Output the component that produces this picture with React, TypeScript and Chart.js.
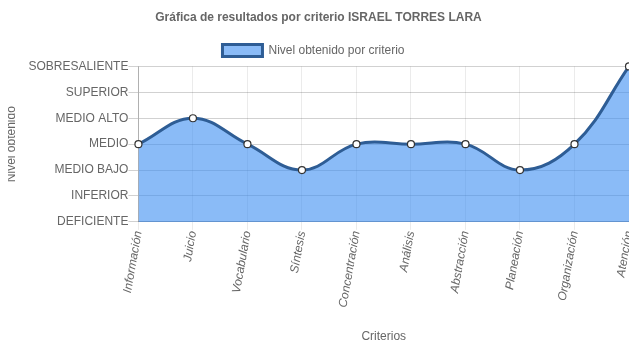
import React, { useEffect, useRef } from "react";
import { Chart, registerables } from "chart.js";

Chart.register(...registerables);

const categories = [
  "Información",
  "Juicio",
  "Vocabulario",
  "Síntesis",
  "Concentración",
  "Análisis",
  "Abstracción",
  "Planeación",
  "Organización",
  "Atención",
];

const levelLabels = [
  "DEFICIENTE",
  "INFERIOR",
  "MEDIO BAJO",
  "MEDIO",
  "MEDIO ALTO",
  "SUPERIOR",
  "SOBRESALIENTE",
];

const values = [3, 4, 3, 2, 3, 3, 3, 2, 3, 6];

const titleText = "Gráfica de resultados por criterio ISRAEL TORRES LARA";
const seriesName = "Nivel obtenido por criterio";

const legendShift = {
  id: "legendShift",
  afterLayout(chart: any) {
    if (chart.legend) {
      chart.legend.right = chart.legend.left + chart.legend.width - 10;
    }
  },
};

export default function App() {
  const ref = useRef<HTMLCanvasElement | null>(null);
  useEffect(() => {
    if (!ref.current) return;
    document.documentElement.style.overflow = "hidden";
    document.body.style.overflow = "hidden";
    Chart.defaults.font.family = "'Liberation Sans', Arial, sans-serif";
    Chart.defaults.font.size = 12;
    Chart.defaults.color = "#666";
    const chart = new Chart(ref.current, {
      type: "line",
      data: {
        labels: categories,
        datasets: [
          {
            label: seriesName,
            data: values,
            fill: "origin",
            backgroundColor: "rgba(60,142,242,0.6)",
            borderColor: "#2e5d95",
            borderWidth: 3,
            tension: 0.4,
            pointRadius: 3.5,
            pointBorderWidth: 1.2,
            pointBackgroundColor: "#ffffff",
            pointBorderColor: "#333",
            clip: false as any,
          },
        ],
      },
      options: {
        animation: false,
        responsive: false,
        maintainAspectRatio: false,
        layout: { padding: { right: 0, left: 0, top: 0, bottom: 0 } },
        plugins: {
          title: {
            display: true,
            text: titleText,
            color: "#666",
            font: { size: 12, weight: "bold" },
            padding: { top: 10, bottom: 10 },
          },
          legend: {
            display: true,
            labels: {
              boxWidth: 40,
              boxHeight: 12,
              color: "#666",
              font: { size: 12 },
              padding: 10,
            },
          },
          tooltip: { enabled: false },
        },
        scales: {
          x: {
            offset: false,
            grid: { color: "rgba(0,0,0,0.08)", tickLength: 8 },
            border: { color: "rgba(0,0,0,0.25)" },
            afterFit: (s: any) => {
              s.paddingRight = 8;
            },
            ticks: {
              maxRotation: 90,
              minRotation: 80,
              padding: 0,
              autoSkip: false,
              font: { style: "italic", size: 12 },
            },
            title: {
              display: true,
              text: "Criterios",
              color: "#666",
              font: { size: 12 },
              padding: { top: 21, bottom: 4 },
            },
          },
          y: {
            min: 0,
            max: 6,
            grid: { color: "rgba(0,0,0,0.18)", tickLength: 10 },
            border: { color: "rgba(0,0,0,0.25)" },
            ticks: {
              stepSize: 1,
              padding: 0,
              callback: (v: any) => levelLabels[v as number] ?? "",
            },
            title: {
              display: true,
              text: "Nivel obtenido",
              color: "#666",
              font: { size: 12 },
              padding: { top: 4, bottom: 10 },
            },
          },
        },
      },
      plugins: [legendShift],
    });
    return () => chart.destroy();
  }, []);
  return (
    <div style={{ margin: -8, width: 637, height: 348 }}>
      <canvas ref={ref} width={637} height={348} style={{ display: "block" }} />
    </div>
  );
}
